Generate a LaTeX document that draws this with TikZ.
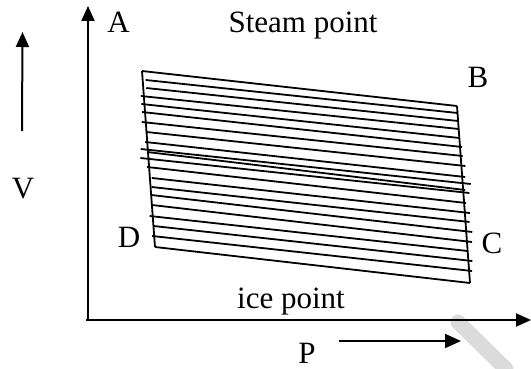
\documentclass[tikz,border=0pt]{standalone}
\usepackage{fontspec}
\setmainfont{Liberation Serif}
\usetikzlibrary{arrows.meta}
\begin{document}
\begin{tikzpicture}[x=1pt,y=-1pt,
  lbl/.style={anchor=base,inner sep=0pt,font=\fontsize{31}{37}\selectfont},
  axis/.style={line width=2pt,-{Triangle[length=15pt,width=13pt]}},
  hatch/.style={line width=1.8pt},
  wmstroke/.style={line width=15pt,line cap=round,draw=black!14}]
\useasboundingbox (0,0) rectangle (531,369);
% watermark stroke
\coordinate (w1) at (458,322);
\coordinate (w2) at (506,369);
\draw[wmstroke] (w1) -- (w2);
% axes
\coordinate (O) at (88,320);
\coordinate (Ytop) at (88,6);
\coordinate (Xstart) at (86,320);
\coordinate (Xend) at (531,320);
\draw[axis] (O) -- (Ytop);
\draw[axis] (Xstart) -- (Xend);
% side arrows
\coordinate (v1) at (22,131);
\coordinate (v2) at (22.5,32);
\draw[axis] (v1) -- (v2);
\coordinate (p1) at (339,341);
\coordinate (p2) at (461,341);
\draw[line width=2pt,-{Triangle[length=16pt,width=14pt]}] (p1) -- (p2);
% parallelogram edges
\coordinate (cA) at (142,71);
\coordinate (cB) at (457,106);
\coordinate (cC) at (470,283);
\coordinate (cD) at (155,247);
\draw[hatch] (cA) -- (cD);
\draw[hatch] (cB) -- (cC);
% hatch lines
\foreach \a/\b/\c/\d in {71/0/106/0, 80/3/113/0, 88/3/121/0, 96/-3/129/0,
  104/-3/138/0, 112/-3/147/2, 122/-4/156/2, 132/0/166/4, 142/-2/177/3,
  149/-7/184/8, 152/-1/190/2, 158/-8/193/6, 167/-2/203/2, 178/2/213/5,
  187/1/222/4, 195/0/232/6, 205/0/242/5, 216/-3/251/0, 226/0/261/4,
  236/-2/271/3, 247/0/283/0}{
  \pgfmathsetmacro\xl{142+(\a-71)*13/176+\b}
  \pgfmathsetmacro\xr{457+(\c-106)*13/177+\d}
  \draw[hatch] (\xl,\a) -- (\xr,\c);
}
% labels
\node[lbl] (A) at (118.5,33) {A};
\node[lbl] (steam) at (303,33) {Steam point};
\node[lbl] (B) at (478,88) {B};
\node[lbl] (D) at (129,247) {D};
\node[lbl] (C) at (492,253) {C};
\node[lbl] (ice) at (291,308) {ice point};
\node[lbl] (V) at (23,198) {V};
\node[lbl] (P) at (307,363) {P};
\end{tikzpicture}
\end{document}
